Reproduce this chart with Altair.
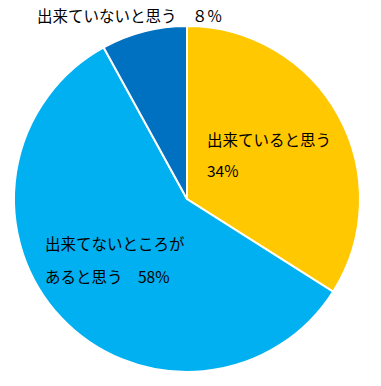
import altair as alt
import pandas as pd

categories = ["出来ていると思う", "出来てないところがあると思う", "出来ていないと思う"]
values = [34, 58, 8]
colors = ["#FFC800", "#00B0F0", "#0070C0"]

df = pd.DataFrame({"cat": categories, "val": values, "ord": [0, 1, 2]})

PT = 16
W, H = 365, 370 - PT
cx, cy, R = 179, 191 - PT, 173

pie = alt.Chart(df).mark_arc(radius=R, stroke="white", strokeWidth=2).encode(
    theta=alt.Theta("val:Q", stack=True),
    order=alt.Order("ord:Q"),
    color=alt.Color("cat:N", scale=alt.Scale(domain=categories, range=colors), legend=None),
    x=alt.value(cx),
    y=alt.value(cy),
)

font = "Noto Sans CJK JP"
labels = [
    ("出来ていると思う", 199, 133 - PT),
    ("34%", 199, 164 - PT),
    ("出来てないところが", 37, 237 - PT),
    ("あると思う　58%", 37, 270 - PT),
    ("出来ていないと思う　８%", 29, 9 - PT),
]
layers = [pie]
for t, x, y in labels:
    layers.append(
        alt.Chart(pd.DataFrame({"t": [t]})).mark_text(
            align="left", baseline="middle", font=font, fontSize=15.5, color="#000000"
        ).encode(text="t:N", x=alt.value(x), y=alt.value(y))
    )

chart = alt.layer(*layers).properties(
    width=W, height=H, autosize=alt.AutoSizeParams(type="none"),
    padding={"left": 0, "top": PT, "right": 0, "bottom": 0},
).configure_view(stroke=None)

chart.save("out.html", embed_options={"renderer": "svg", "actions": False})
